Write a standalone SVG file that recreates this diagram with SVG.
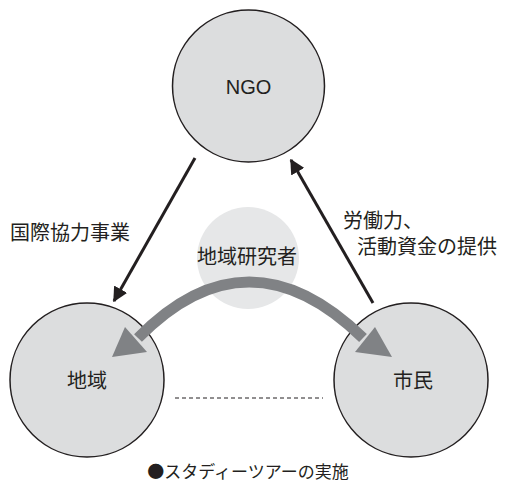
<svg xmlns="http://www.w3.org/2000/svg" width="508" height="484" viewBox="0 0 508 484">
<defs>
<style>
.node{fill:#dcddde;stroke:#231f20;stroke-width:1.5}
.t{font-family:"Noto Sans CJK JP","Liberation Sans",sans-serif;fill:#231f20;font-size:20px}
.c{text-anchor:middle}
.conn{stroke:#231f20;stroke-width:3;fill:none}
</style>
<marker id="ah" viewBox="0 0 10 10" refX="9" refY="5" markerWidth="5" markerHeight="5" orient="auto" markerUnits="strokeWidth">
<path d="M0,0 L10,5 L0,10 Z" fill="#231f20"/>
</marker>
</defs>
<rect width="508" height="484" fill="#fff"/>
<g id="researcher">
<circle cx="248" cy="258" r="51" fill="#e6e7e8"/>
<text class="t c" x="247" y="264">地域研究者</text>
</g>
<g id="ngo">
<circle class="node" cx="248.5" cy="86" r="76"/>
<text class="t c" x="248.5" y="94" style="font-family:'Liberation Sans',sans-serif">NGO</text>
</g>
<g id="region">
<circle class="node" cx="87" cy="380" r="77"/>
<text class="t c" x="87" y="388">地域</text>
</g>
<g id="citizen">
<circle class="node" cx="411" cy="380" r="77"/>
<text class="t c" x="413" y="388">市民</text>
</g>
<g id="connectors">
<line class="conn" x1="195" y1="158" x2="114" y2="301" marker-end="url(#ah)"/>
<line class="conn" x1="373" y1="303" x2="291" y2="160" marker-end="url(#ah)"/>
<path d="M138,338 Q248,226 363,338" fill="none" stroke="#808285" stroke-width="11"/>
<polygon points="112,357 125,327 147,352" fill="#808285"/>
<polygon points="392,357 355,352 375,327" fill="#808285"/>
<line x1="175" y1="398" x2="323" y2="398" stroke="#231f20" stroke-width="1" stroke-dasharray="4,3"/>
</g>
<g id="labels">
<text class="t" x="10" y="240">国際協力事業</text>
<text class="t" x="343" y="228">労働力、</text>
<text class="t" x="357" y="254">活動資金の提供</text>
<text class="t c" x="248" y="478" style="font-size:17px">●スタディーツアーの実施</text>
</g>
</svg>
